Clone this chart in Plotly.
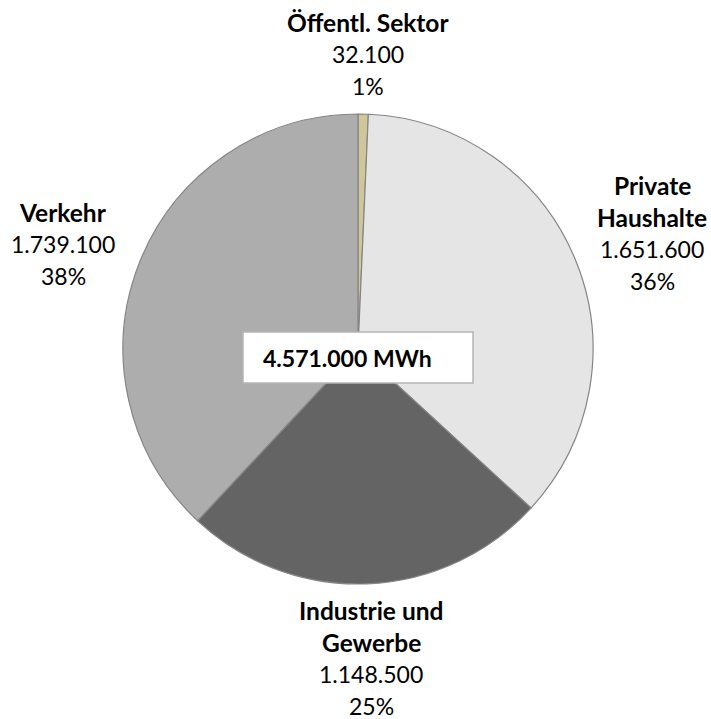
import plotly.graph_objects as go

# Endenergieverbrauch nach Sektoren (MWh)
sectors = ["Öffentl. Sektor", "Private Haushalte", "Industrie und Gewerbe", "Verkehr"]
label_lines = [["Öffentl. Sektor"], ["Private", "Haushalte"], ["Industrie und", "Gewerbe"], ["Verkehr"]]
values = [32100, 1651600, 1148500, 1739100]
colors = ["#cfc69a", "#e5e5e5", "#646464", "#adadad"]

W, H = 711, 719
FONT = "Lato"
FS_TITLE = 24.5
FS = 23
LINE = 32

# label anchor (x centre, y of first line) in pixels
label_pos = [(368, 22), (652, 185), (371, 610), (63, 212)]


def de_num(v):
    return f"{v:,.0f}".replace(",", ".")


total = sum(values)

fig = go.Figure(go.Pie(
    labels=sectors,
    values=values,
    sort=False,
    direction="clockwise",
    rotation=0,
    marker=dict(colors=colors, line=dict(color="#858585", width=1.2)),
    textinfo="none",
    hoverinfo="label+value+percent",
    domain=dict(x=[(358 - 235) / W, (358 + 235) / W],
                y=[1 - (349 + 235) / H, 1 - (349 - 235) / H]),
    showlegend=False,
))

annotations = []
for name_lines, v, (px, py) in zip(label_lines, values, label_pos):
    lines = [(f"<b>{t}</b>", FS_TITLE) for t in name_lines]
    lines += [(de_num(v), FS), (f"{round(100 * v / total):.0f}%", FS)]
    for i, (t, fs) in enumerate(lines):
        annotations.append(dict(
            x=px / W, y=1 - (py + i * LINE) / H, xref="paper", yref="paper",
            text=t, showarrow=False, xanchor="center", yanchor="middle",
            font=dict(family=FONT, size=fs, color="#000000"),
        ))

# total energy box in the centre
box = (243, 332, 473, 383)
annotations.append(dict(
    x=347 / W, y=1 - 357.5 / H, xref="paper", yref="paper",
    text=f"<b>{de_num(round(total, -3))} MWh</b>", showarrow=False,
    xanchor="center", yanchor="middle",
    font=dict(family=FONT, size=FS, color="#000000"),
))

fig.update_layout(
    width=W, height=H,
    margin=dict(l=0, r=0, t=0, b=0),
    paper_bgcolor="white",
    plot_bgcolor="white",
    annotations=annotations,
    shapes=[dict(type="rect", xref="paper", yref="paper",
                 x0=box[0] / W, x1=box[2] / W, y0=1 - box[3] / H, y1=1 - box[1] / H,
                 fillcolor="white", line=dict(color="#b5b5b5", width=1.5), layer="above")],
)

fig.write_html("out.html")
